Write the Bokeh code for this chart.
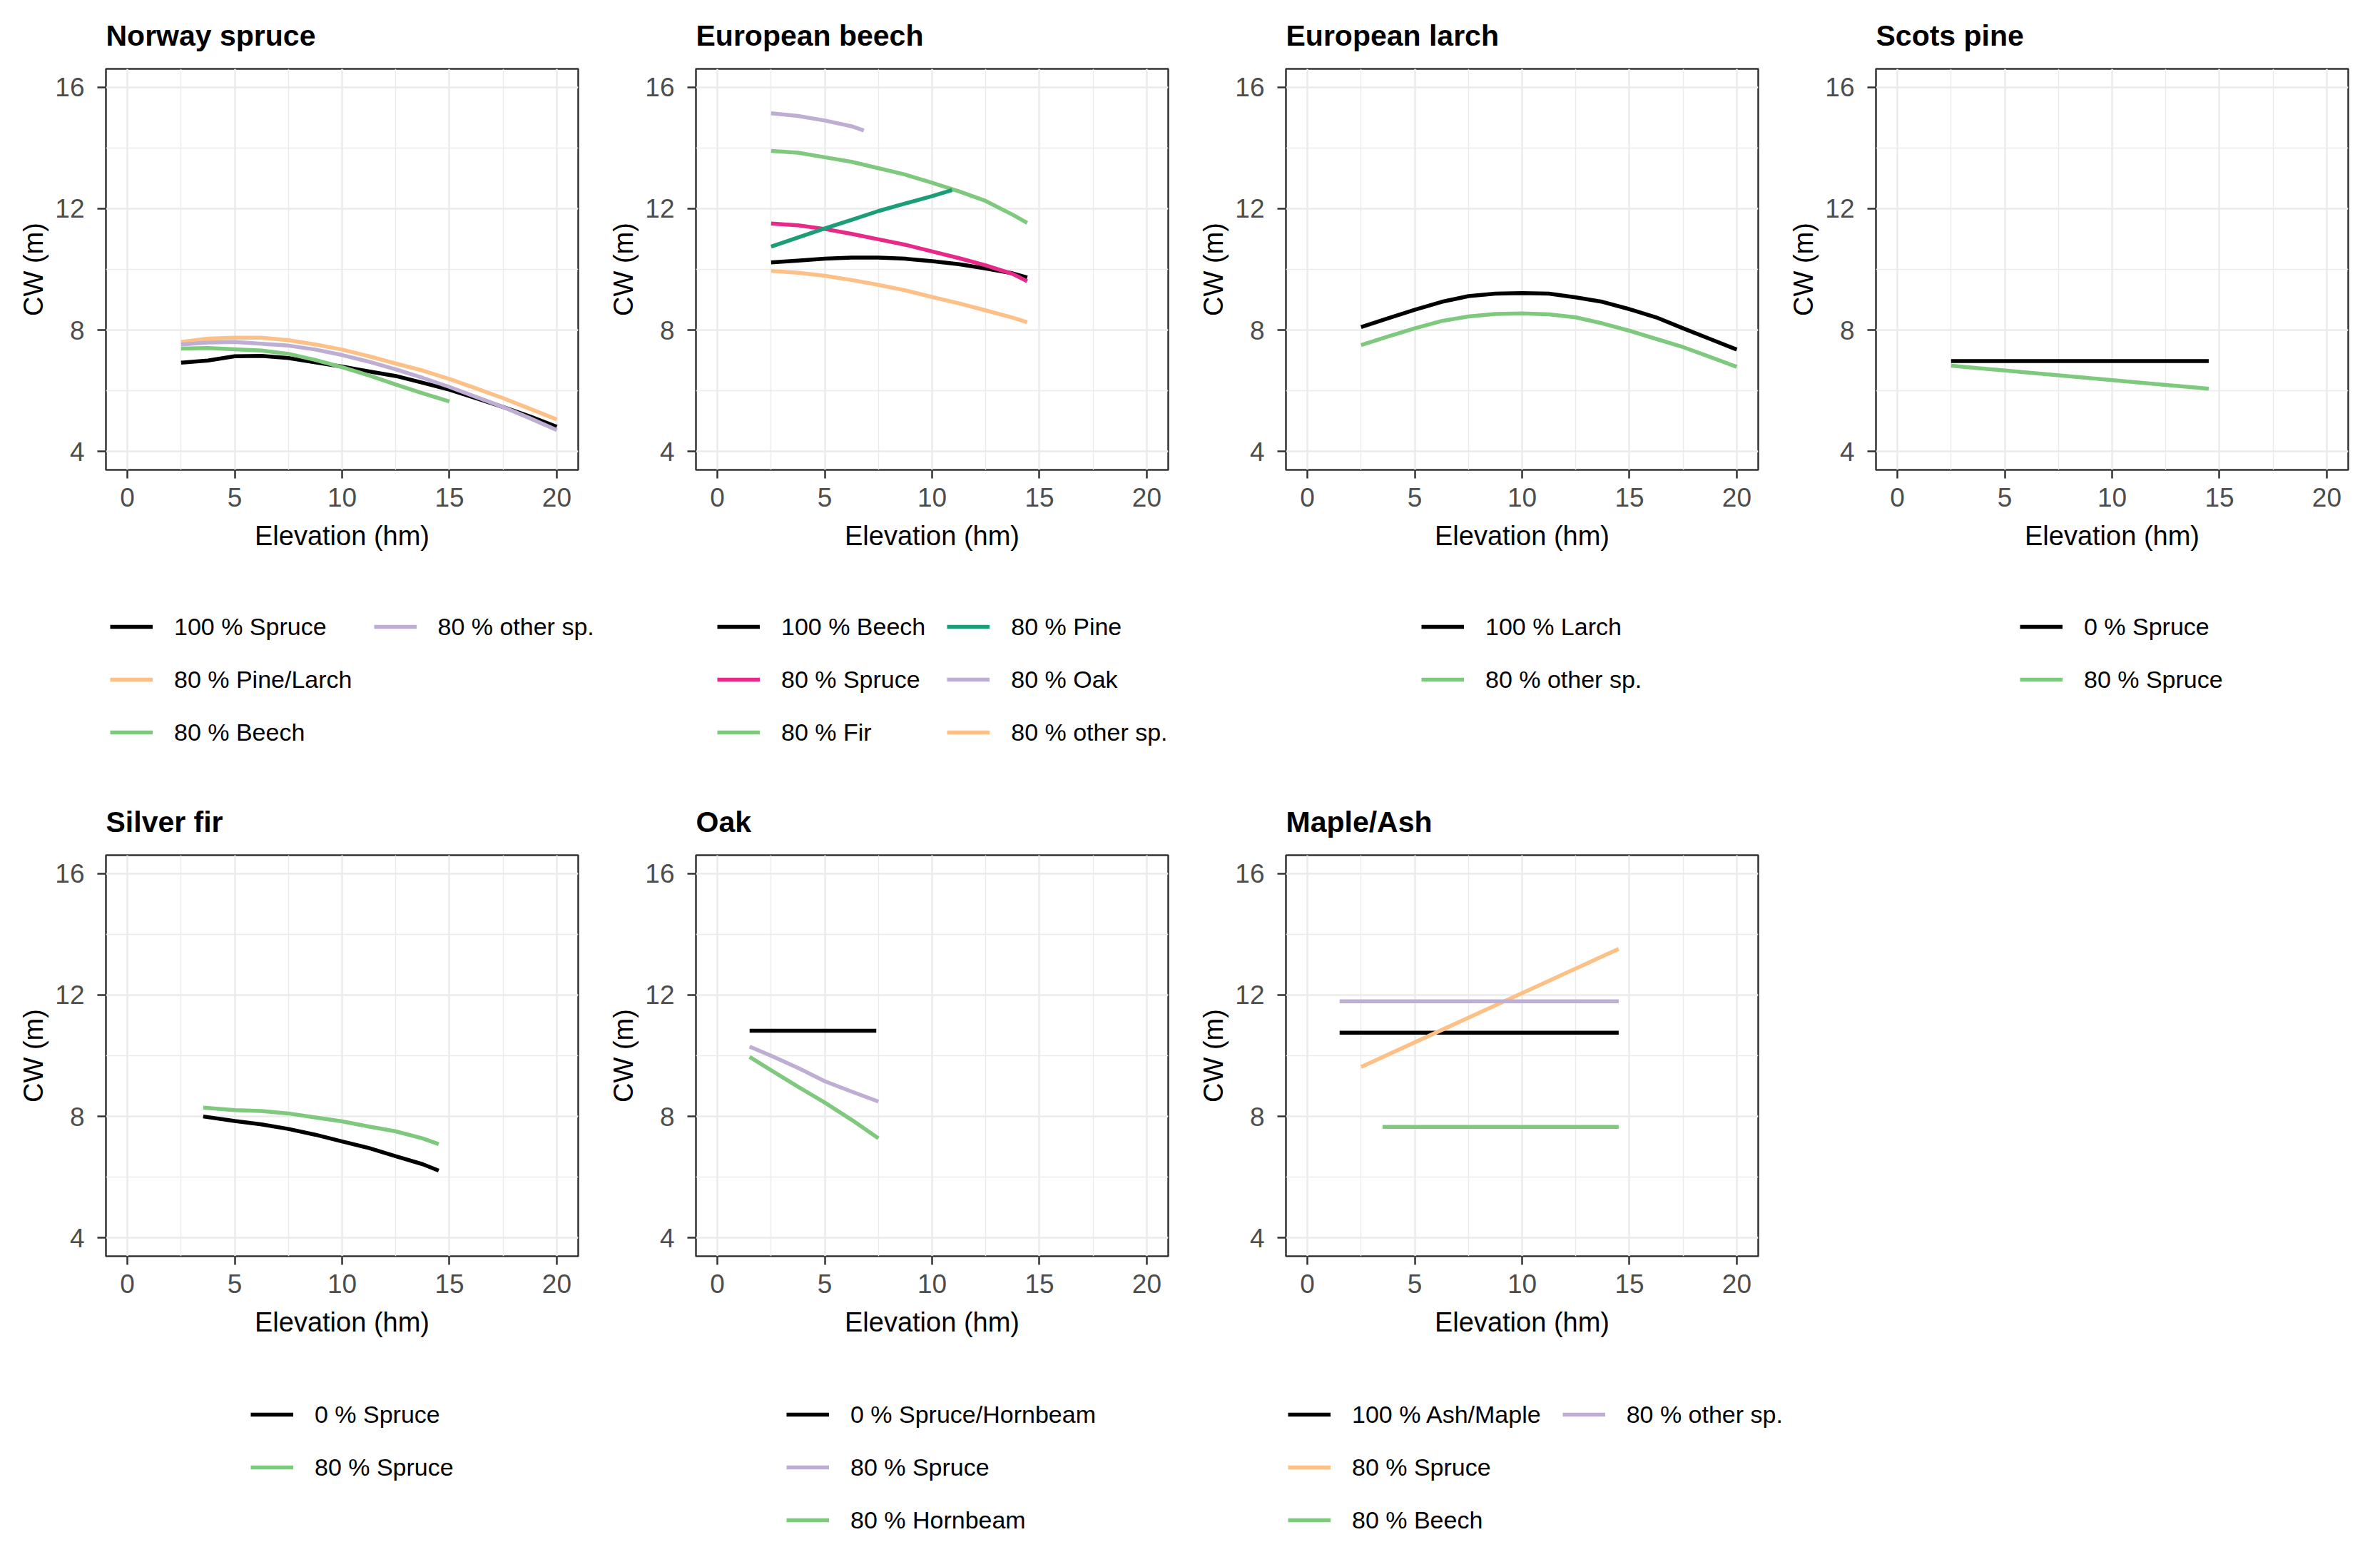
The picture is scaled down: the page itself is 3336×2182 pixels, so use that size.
from bokeh.plotting import figure
from bokeh.models import Range1d, FixedTicker, Legend, LegendItem
from bokeh.layouts import column, row
from bokeh.embed import file_html
from bokeh.resources import INLINE

# ---------------- colours ----------------
BLACK = "#000000"
GREEN = "#7FC97F"
PURPLE = "#BEAED4"
ORANGE = "#FDC086"
TEAL = "#1B9E77"
PINK = "#E7298A"

# ---------------- axis ticks ----------------
x_ticks = [0, 5, 10, 15, 20]
x_minor = [2.5, 7.5, 12.5, 17.5]
y_ticks = [4, 8, 12, 16]
y_minor = [6, 10, 14]

# ---------------- Norway spruce ----------------
ns_x = [2.5, 3.75, 5, 6.25, 7.5, 8.75, 10, 11.25, 12.5, 13.75, 15, 16.25, 17.5, 18.75, 20]
ns_spruce100 = [6.93, 7.00, 7.14, 7.15, 7.08, 6.94, 6.80, 6.64, 6.49, 6.27, 6.04, 5.76, 5.47, 5.16, 4.82]
ns_pinelarch80 = [7.61, 7.72, 7.75, 7.75, 7.67, 7.53, 7.36, 7.14, 6.90, 6.67, 6.39, 6.08, 5.76, 5.41, 5.06]
ns_other80 = [7.53, 7.59, 7.61, 7.55, 7.49, 7.36, 7.18, 6.96, 6.71, 6.43, 6.13, 5.80, 5.47, 5.10, 4.71]
ns_beech_x = [2.5, 3.75, 5, 6.25, 7.5, 8.75, 10, 11.25, 12.5, 13.75, 15]
ns_beech80 = [7.39, 7.41, 7.37, 7.33, 7.22, 7.02, 6.78, 6.51, 6.21, 5.92, 5.65]

# ---------------- European beech ----------------
eb_x = [2.5, 3.75, 5, 6.25, 7.5, 8.75, 10, 11.25, 12.5, 13.75, 14.43]
eb_beech100 = [10.23, 10.29, 10.35, 10.39, 10.39, 10.35, 10.27, 10.17, 10.03, 9.87, 9.73]
eb_spruce80 = [11.51, 11.45, 11.33, 11.17, 10.99, 10.81, 10.59, 10.37, 10.13, 9.85, 9.61]
eb_fir80 = [13.90, 13.84, 13.69, 13.54, 13.33, 13.12, 12.85, 12.57, 12.25, 11.80, 11.53]
eb_other80 = [9.95, 9.89, 9.79, 9.65, 9.49, 9.31, 9.09, 8.88, 8.65, 8.41, 8.26]
eb_pine_x = [2.5, 3.75, 5, 6.25, 7.5, 8.75, 10, 10.93]
eb_pine80 = [10.75, 11.05, 11.35, 11.63, 11.92, 12.17, 12.41, 12.61]
eb_oak_x = [2.5, 3.75, 5, 6.25, 6.82]
eb_oak80 = [15.14, 15.05, 14.90, 14.71, 14.57]

# ---------------- European larch ----------------
el_x = [2.5, 3.75, 5, 6.25, 7.5, 8.75, 10, 11.25, 12.5, 13.75, 15, 16.25, 17.5, 18.75, 20]
el_larch100 = [8.10, 8.39, 8.67, 8.93, 9.12, 9.20, 9.22, 9.20, 9.08, 8.93, 8.69, 8.42, 8.06, 7.71, 7.36]
el_other80 = [7.51, 7.79, 8.06, 8.30, 8.45, 8.53, 8.55, 8.52, 8.42, 8.22, 7.98, 7.71, 7.44, 7.12, 6.79]

# ---------------- Scots pine ----------------
sp_x = [2.5, 14.5]
sp_spruce0 = [6.98, 6.98]
sp_spruce80 = [6.83, 6.07]

# ---------------- Silver fir ----------------
sf_x = [3.53, 5, 6.25, 7.5, 8.75, 10, 11.25, 12.5, 13.75, 14.5]
sf_spruce0 = [8.00, 7.85, 7.74, 7.59, 7.40, 7.18, 6.96, 6.69, 6.43, 6.22]
sf_spruce80 = [8.29, 8.21, 8.18, 8.10, 7.97, 7.84, 7.67, 7.51, 7.28, 7.09]

# ---------------- Oak ----------------
oak_flat_x = [1.5, 7.4]
oak_sprhorn0 = [10.82, 10.82]
oak_x = [1.5, 2.5, 3.75, 5, 6.25, 7.5]
oak_spruce80 = [10.30, 10.00, 9.60, 9.16, 8.82, 8.49]
oak_hornbeam80 = [9.96, 9.52, 8.98, 8.46, 7.89, 7.28]

# ---------------- Maple/Ash ----------------
ma_x = [1.5, 14.5]
ma_ashmaple100 = [10.76, 10.76]
ma_other80 = [11.79, 11.79]
ma_spruce_x = [2.5, 14.5]
ma_spruce80 = [9.63, 13.52]
ma_beech_x = [3.5, 14.5]
ma_beech80 = [7.66, 7.66]

FONT = "Liberation Sans"
ITEM_H = 44
SPACING = 30
CELL_W = 827
PLOT_H = 796
ROW_W = 4 * CELL_W


def make_panel(title, series):
    p = figure(frame_width=662, frame_height=562,
               x_range=Range1d(-1, 21), y_range=Range1d(3.4, 16.6),
               output_backend="svg", toolbar_location=None,
               min_border_left=148, min_border_right=17,
               min_border_top=94, min_border_bottom=PLOT_H - 94 - 562,
               title=title, x_axis_label="Elevation (hm)", y_axis_label="CW (m)")
    p.title.text_font = FONT
    p.title.text_font_size = "41px"
    p.title.text_font_style = "bold"
    p.title.text_color = "#000000"
    p.title.standoff = 48
    p.title.align = "left"

    p.xaxis.ticker = FixedTicker(ticks=x_ticks, minor_ticks=x_minor)
    p.yaxis.ticker = FixedTicker(ticks=y_ticks, minor_ticks=y_minor)
    for ax in (p.xaxis[0], p.yaxis[0]):
        ax.axis_line_color = None
        ax.major_tick_line_color = "#333333"
        ax.major_tick_line_width = 2.5
        ax.major_tick_out = 12
        ax.major_tick_in = 0
        ax.minor_tick_line_color = None
        ax.major_label_text_font = FONT
        ax.major_label_text_font_size = "37px"
        ax.major_label_text_color = "#4D4D4D"
        ax.axis_label_text_font = FONT
        ax.axis_label_text_font_size = "38px"
        ax.axis_label_text_font_style = "normal"
        ax.axis_label_text_color = "#000000"
    p.xaxis.major_label_standoff = 13
    p.xaxis.axis_label_standoff = 17
    p.yaxis.major_label_standoff = 18
    p.yaxis.axis_label_standoff = 6

    for g in (p.xgrid[0], p.ygrid[0]):
        g.grid_line_color = "#EBEBEB"
        g.grid_line_width = 2.5
        g.minor_grid_line_color = "#EBEBEB"
        g.minor_grid_line_width = 1.4

    p.outline_line_color = "#333333"
    p.outline_line_width = 2.5
    p.background_fill_color = "white"
    p.border_fill_color = "white"

    for xs, ys, color, label in series:
        p.line(xs, ys, line_color=color, line_width=5.5)
    return p


def make_strip(height, legend_top, specs):
    """One legend strip under a row of panels; holds one legend per panel."""
    lf = figure(frame_width=ROW_W, frame_height=height,
                x_range=Range1d(-1, 21), y_range=Range1d(3.4, 16.6),
                x_axis_type=None, y_axis_type=None,
                output_backend="svg", toolbar_location=None,
                min_border=0, outline_line_color=None)
    lf.xgrid.visible = False
    lf.ygrid.visible = False
    lf.border_fill_color = "white"
    lf.background_fill_color = "white"
    for series, legend_x, nrows in specs:
        items = []
        for xs, ys, color, label in series:
            key = lf.line(xs, ys, line_color=color, line_width=5.5, visible=False)
            items.append(LegendItem(label=label, renderers=[key]))
        rows = nrows if nrows else len(series)
        h = rows * ITEM_H + (rows - 1) * SPACING
        leg = Legend(items=items, location=(legend_x, height - legend_top - h),
                     orientation="vertical",
                     label_text_font=FONT, label_text_font_size="34px",
                     label_text_color="#000000",
                     glyph_width=60, glyph_height=ITEM_H, label_height=ITEM_H,
                     label_standoff=30, spacing=SPACING, padding=0, margin=0,
                     background_fill_alpha=0, border_line_alpha=0)
        if nrows:
            leg.nrows = nrows
        lf.add_layout(leg, "center")
    return lf


s1 = [
    (ns_x, ns_spruce100, BLACK, "100 % Spruce"),
    (ns_x, ns_pinelarch80, ORANGE, "80 % Pine/Larch"),
    (ns_beech_x, ns_beech80, GREEN, "80 % Beech"),
    (ns_x, ns_other80, PURPLE, "80 % other sp."),
]
s2 = [
    (eb_x, eb_beech100, BLACK, "100 % Beech"),
    (eb_x, eb_spruce80, PINK, "80 % Spruce"),
    (eb_x, eb_fir80, GREEN, "80 % Fir"),
    (eb_pine_x, eb_pine80, TEAL, "80 % Pine"),
    (eb_oak_x, eb_oak80, PURPLE, "80 % Oak"),
    (eb_x, eb_other80, ORANGE, "80 % other sp."),
]
s3 = [
    (el_x, el_larch100, BLACK, "100 % Larch"),
    (el_x, el_other80, GREEN, "80 % other sp."),
]
s4 = [
    (sp_x, sp_spruce0, BLACK, "0 % Spruce"),
    (sp_x, sp_spruce80, GREEN, "80 % Spruce"),
]
s5 = [
    (sf_x, sf_spruce0, BLACK, "0 % Spruce"),
    (sf_x, sf_spruce80, GREEN, "80 % Spruce"),
]
s6 = [
    (oak_flat_x, oak_sprhorn0, BLACK, "0 % Spruce/Hornbeam"),
    (oak_x, oak_spruce80, PURPLE, "80 % Spruce"),
    (oak_x, oak_hornbeam80, GREEN, "80 % Hornbeam"),
]
s7 = [
    (ma_x, ma_ashmaple100, BLACK, "100 % Ash/Maple"),
    (ma_spruce_x, ma_spruce80, ORANGE, "80 % Spruce"),
    (ma_beech_x, ma_beech80, GREEN, "80 % Beech"),
    (ma_x, ma_other80, PURPLE, "80 % other sp."),
]

p1 = make_panel("Norway spruce", s1)
p2 = make_panel("European beech", s2)
p3 = make_panel("European larch", s3)
p4 = make_panel("Scots pine", s4)
p5 = make_panel("Silver fir", s5)
p6 = make_panel("Oak", s6)
p7 = make_panel("Maple/Ash", s7)

strip1 = make_strip(304, 58, [
    (s1, 154, 3), (s2, 1005, 3), (s3, 1992, None), (s4, 2831, None)])
strip2 = make_strip(270, 60, [
    (s5, 351, None), (s6, 1102, None), (s7, 1805, 3)])

layout = column(row(p1, p2, p3, p4), strip1, row(p5, p6, p7), strip2)

open("out.html", "w").write(file_html(layout, INLINE))
